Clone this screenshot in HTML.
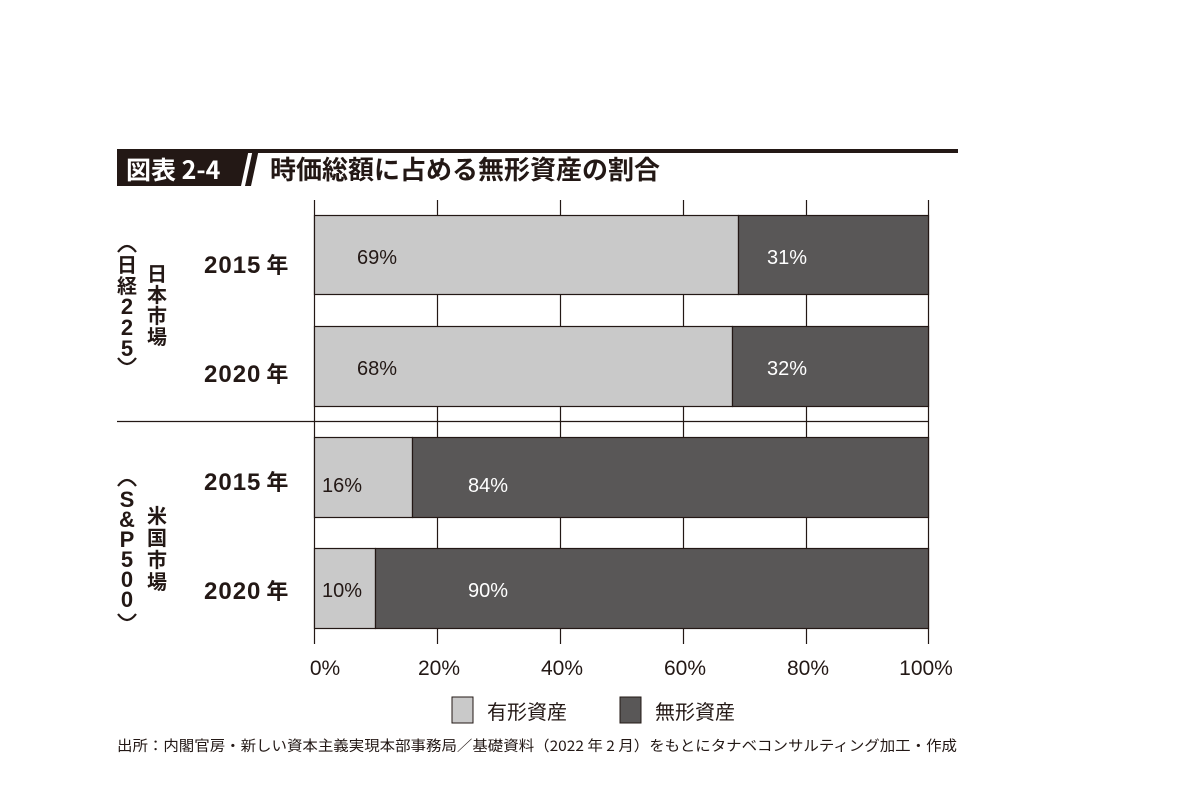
<!DOCTYPE html>
<html><head><meta charset="utf-8"><style>
body{margin:0;background:#fff;}
svg{display:block;font-family:"Liberation Sans","Noto Sans CJK JP",sans-serif;}
</style></head><body>
<svg width="1181" height="796" viewBox="0 0 1181 796" xmlns="http://www.w3.org/2000/svg">
<rect width="1181" height="796" fill="#fff"/>
<rect x="117" y="149" width="841" height="4" fill="#231815"/>
<polygon points="117,149 249,149 241,186 117,186" fill="#231815"/>
<polygon points="253,149 259,149 251,186 245,186" fill="#231815"/>
<text x="126" y="179" font-size="25" font-weight="bold" fill="#fff" font-family="'Noto Sans CJK JP',sans-serif">図表 2-4</text>
<text x="270" y="179" font-size="26" font-weight="bold" fill="#231815" font-family="'Noto Sans CJK JP',sans-serif">時価総額に占める無形資産の割合</text>
<g stroke="#231815" stroke-width="1.2">
<line x1="314.5" y1="200" x2="314.5" y2="644"/>
<line x1="437.5" y1="200" x2="437.5" y2="644"/>
<line x1="560.5" y1="200" x2="560.5" y2="644"/>
<line x1="683.5" y1="200" x2="683.5" y2="644"/>
<line x1="806.5" y1="200" x2="806.5" y2="644"/>
<line x1="928.5" y1="200" x2="928.5" y2="644"/>
<line x1="117" y1="421.5" x2="928" y2="421.5"/>
</g>
<g stroke="#231815" stroke-width="1.2">
<rect x="314.5" y="215.5" width="424" height="79" fill="#c9c9c9"/>
<rect x="738.5" y="215.5" width="190" height="79" fill="#595757"/>
<rect x="314.5" y="326.5" width="418" height="80" fill="#c9c9c9"/>
<rect x="732.5" y="326.5" width="196" height="80" fill="#595757"/>
<rect x="314.5" y="437.5" width="98" height="80" fill="#c9c9c9"/>
<rect x="412.5" y="437.5" width="516" height="80" fill="#595757"/>
<rect x="314.5" y="548.5" width="61" height="80" fill="#c9c9c9"/>
<rect x="375.5" y="548.5" width="553" height="80" fill="#595757"/>
</g>
<g font-size="20" fill="#231815">
<text x="357" y="264">69%</text>
<text x="357" y="375">68%</text>
<text x="322" y="492">16%</text>
<text x="322" y="597">10%</text>
</g>
<g font-size="20" fill="#fff">
<text x="767" y="264">31%</text>
<text x="767" y="375">32%</text>
<text x="468" y="492">84%</text>
<text x="468" y="597">90%</text>
</g>
<g font-size="24" font-weight="bold" fill="#231815">
<text x="204" y="273" letter-spacing="1">2015<tspan font-family="'Noto Sans CJK JP',sans-serif" dx="5" font-size="22">年</tspan></text>
<text x="204" y="382" letter-spacing="1">2020<tspan font-family="'Noto Sans CJK JP',sans-serif" dx="5" font-size="22">年</tspan></text>
<text x="204" y="490" letter-spacing="1">2015<tspan font-family="'Noto Sans CJK JP',sans-serif" dx="5" font-size="22">年</tspan></text>
<text x="204" y="599" letter-spacing="1">2020<tspan font-family="'Noto Sans CJK JP',sans-serif" dx="5" font-size="22">年</tspan></text>
</g>
<g font-size="20" font-weight="bold" fill="#231815" font-family="'Noto Sans CJK JP',sans-serif" text-anchor="middle">
<text x="157" y="281">日</text><text x="157" y="302">本</text><text x="157" y="323">市</text><text x="157" y="344">場</text>
<text x="157" y="523">米</text><text x="157" y="545">国</text><text x="157" y="567">市</text><text x="157" y="589">場</text>
</g>
<g fill="none" stroke="#231815" stroke-width="2.2">
<path d="M118,252 Q127,240 136,252"/>
<path d="M118,358 Q127,370 136,358"/>
<path d="M118,486 Q127,474 136,486"/>
<path d="M118,614 Q127,626 136,614"/>
</g>
<g font-size="22" font-weight="bold" fill="#231815" text-anchor="middle">
<text x="127" y="272" font-family="'Noto Sans CJK JP',sans-serif" font-size="20">日</text>
<text x="127" y="293" font-family="'Noto Sans CJK JP',sans-serif" font-size="20">経</text>
<text x="127" y="314">2</text>
<text x="127" y="335">2</text>
<text x="127" y="356">5</text>
<text x="127" y="507">S</text>
<text x="127" y="527">&amp;</text>
<text x="127" y="547">P</text>
<text x="127" y="567">5</text>
<text x="127" y="587">0</text>
<text x="127" y="607">0</text>
</g>
<g font-size="21" fill="#231815" text-anchor="middle">
<text x="325" y="675">0%</text>
<text x="439" y="675">20%</text>
<text x="562" y="675">40%</text>
<text x="685" y="675">60%</text>
<text x="808" y="675">80%</text>
<text x="926" y="675">100%</text>
</g>
<rect x="452" y="697" width="21" height="26" fill="#c9c9c9" stroke="#231815" stroke-width="1"/>
<text x="487" y="719" font-size="20" fill="#231815" font-family="'Noto Sans CJK JP',sans-serif">有形資産</text>
<rect x="620" y="697" width="21" height="26" fill="#595757" stroke="#231815" stroke-width="1"/>
<text x="655" y="719" font-size="20" fill="#231815" font-family="'Noto Sans CJK JP',sans-serif">無形資産</text>
<text x="117" y="751" font-size="14.5" fill="#231815" font-family="'Noto Sans CJK JP',sans-serif" textLength="840" lengthAdjust="spacingAndGlyphs">出所：内閣官房・新しい資本主義実現本部事務局／基礎資料（2022 年 2 月）をもとにタナベコンサルティング加工・作成</text>
</svg>
</body></html>
